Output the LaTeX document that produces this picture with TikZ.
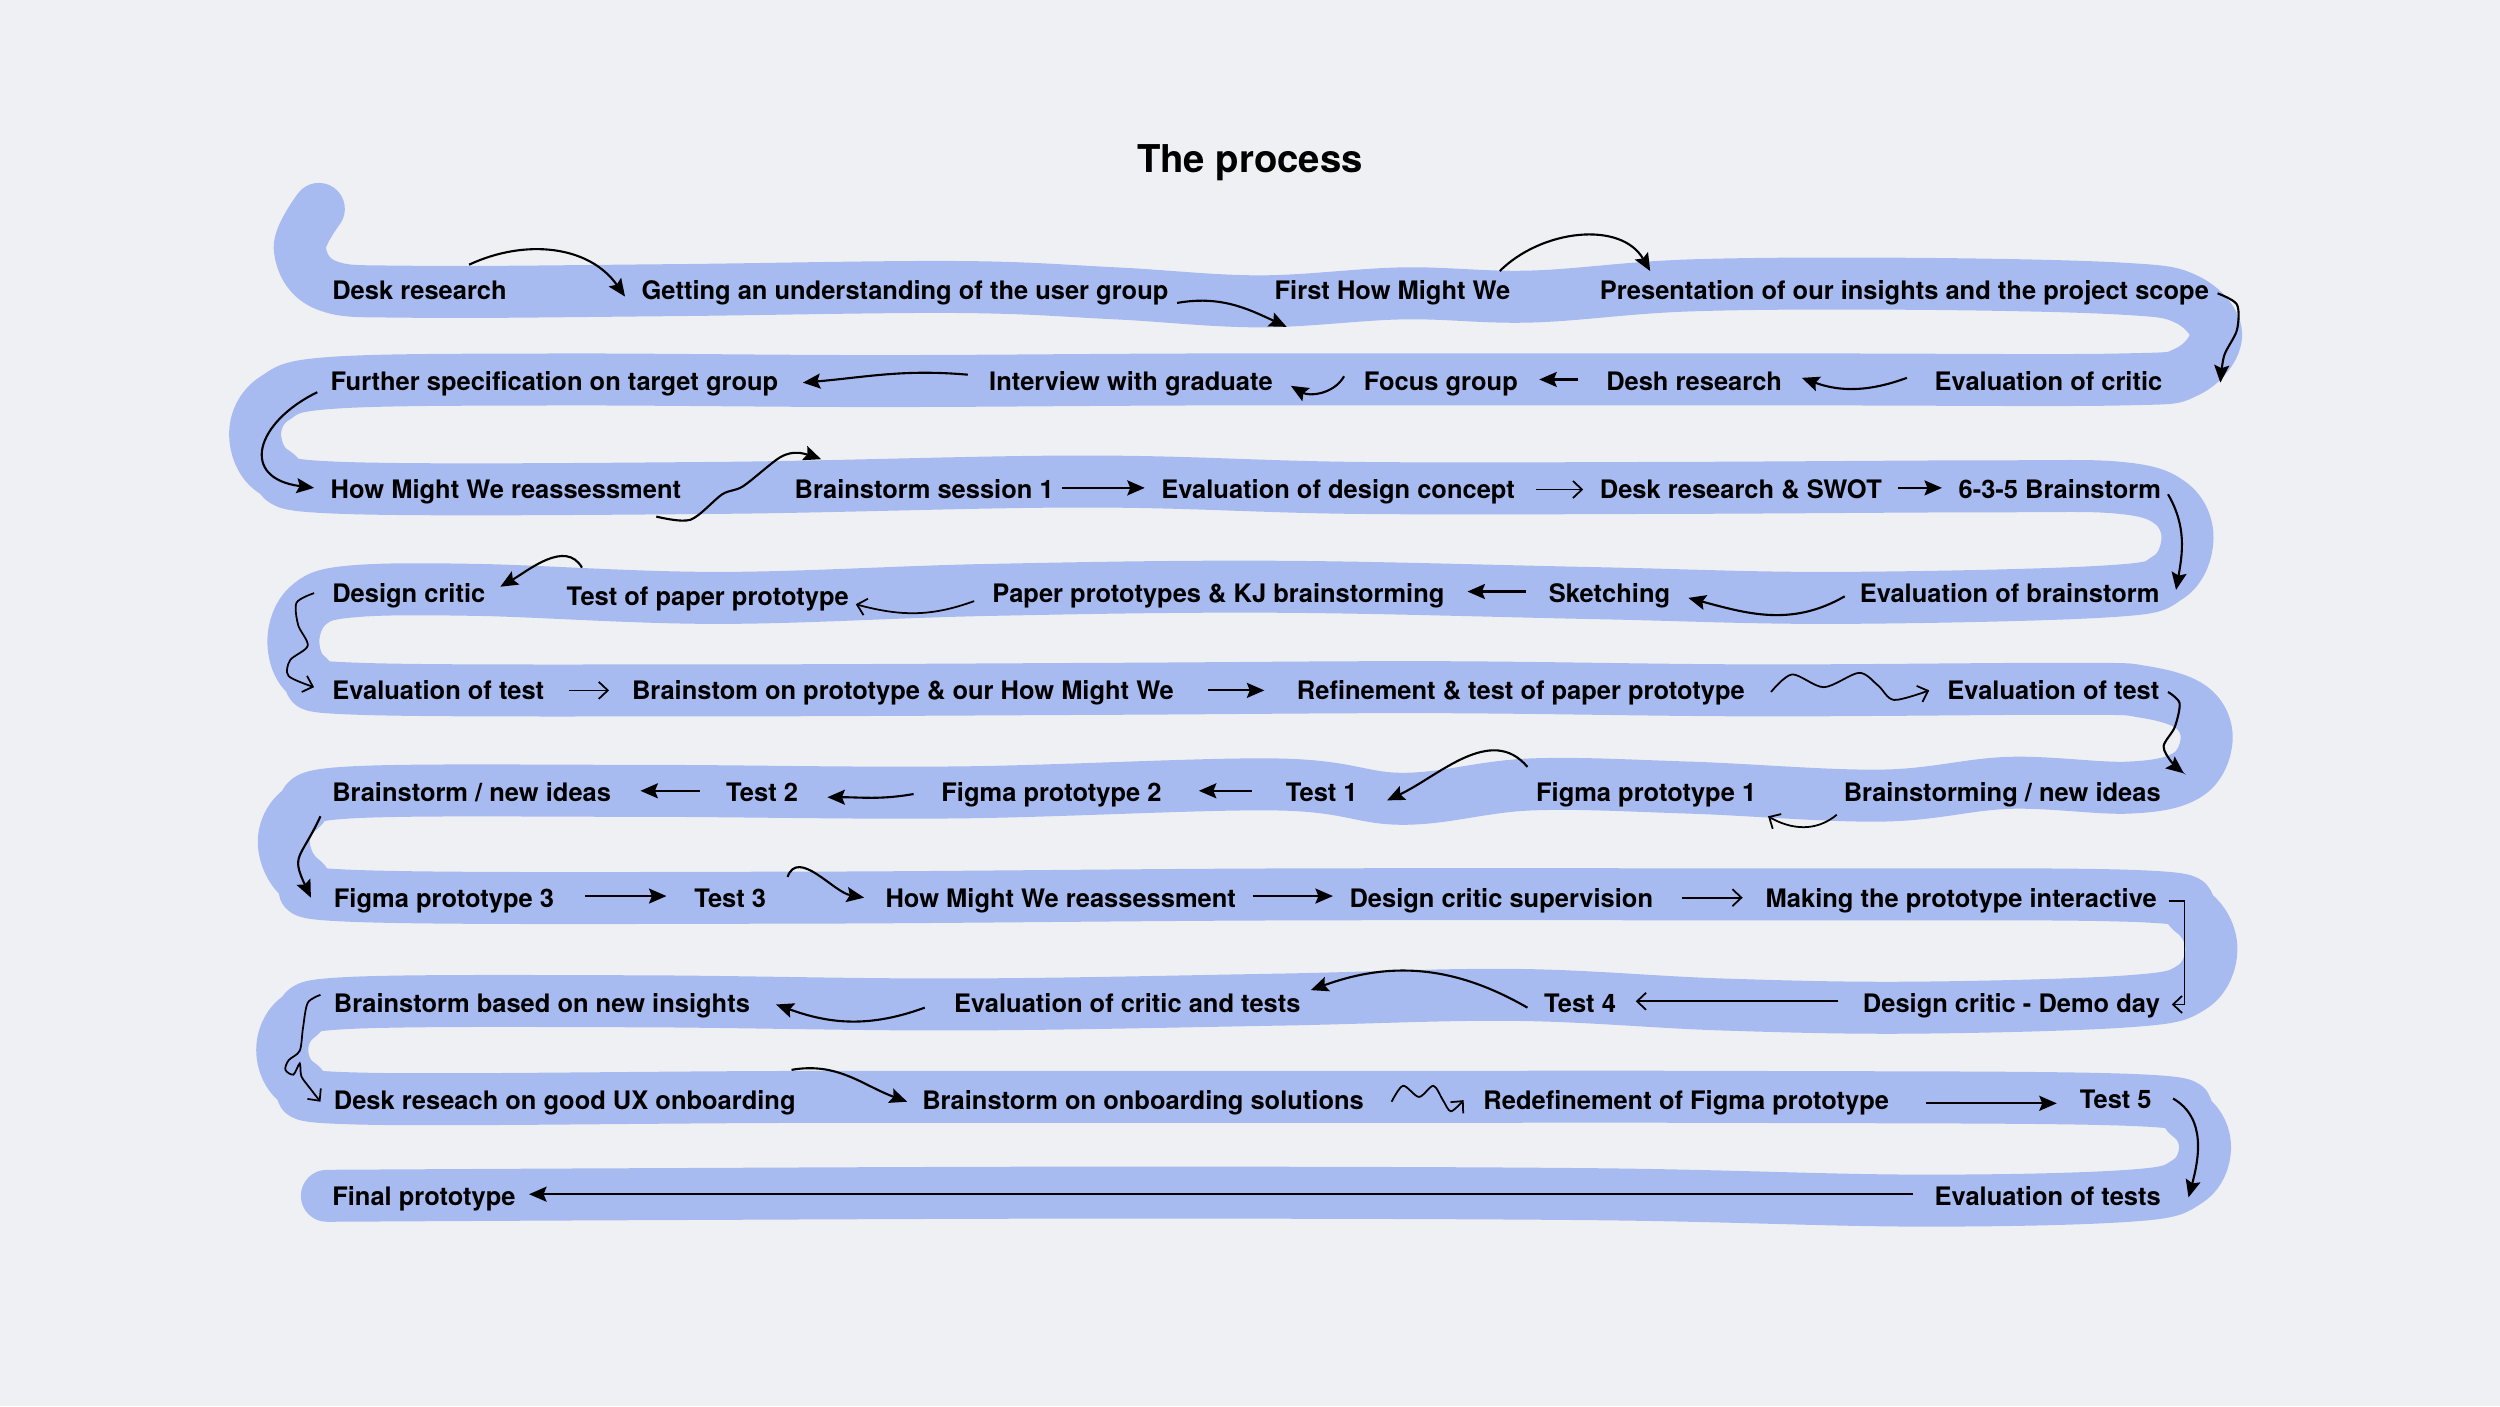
\documentclass[tikz,border=0pt]{standalone}
\usepackage{fontspec}
\setmainfont{TeX Gyre Heros}
\usetikzlibrary{arrows.meta, calc}
\definecolor{paper}{RGB}{239,240,243}
\definecolor{ribbon}{RGB}{168,187,240}

\begin{document}
\begin{tikzpicture}[x=0.015944cm, y=0.015944cm,
  stage/.style={anchor=west, inner sep=0pt, text height=1.6ex, text depth=0.4ex, font=\fontsize{7.25}{9}\selectfont\bfseries},
  flow/.style={line width=0.6pt, -{Stealth[length=1.75mm, width=1.5mm, inset=0.3mm]}},
  flowthin/.style={line width=0.5pt, -{Straight Barb[length=0.9mm, width=1.7mm]}},
  road/.style={draw=ribbon, line width=5.2mm, line cap=round, line join=round}]

\fill[paper] (0,0) rectangle (1568,-882);

\draw[road] plot[smooth, tension=0.6] coordinates {
  (200,-131) (188,-156) (205,-179) (260,-183) (420,-182) (600,-180) (700,-184) (790,-189) (880,-184) (960,-186) (1060,-179) (1200,-178) (1330,-181)
  (1372,-188) (1390,-210) (1372,-233)
  (1330,-238) (1150,-238) (950,-238) (750,-238) (550,-239) (350,-238) (210,-240)
  (172,-250) (160,-272) (172,-296)
  (215,-306) (450,-306) (680,-302) (850,-306) (1050,-306) (1250,-305) (1330,-306)
  (1362,-316) (1372,-338) (1360,-362)
  (1320,-371) (1150,-375) (1000,-372) (800,-368) (620,-370) (450,-375) (300,-370) (220,-371)
  (193,-380) (184,-402) (193,-424)
  (225,-432) (450,-433) (700,-432) (900,-431) (1100,-433) (1300,-432) (1345,-434)
  (1375,-444) (1384,-464) (1372,-486)
  (1335,-494) (1260,-491) (1180,-499) (1060,-494) (960,-492) (880,-501) (800,-492) (600,-497) (400,-496) (220,-497)
  (188,-508) (178,-529) (190,-552)
  (225,-562) (500,-563) (800,-561) (1100,-561) (1340,-562)
  (1375,-572) (1387,-595) (1375,-619)
  (1335,-628) (1200,-632) (1080,-630) (950,-624) (800,-627) (600,-630) (400,-628) (220,-629)
  (187,-638) (177,-659) (188,-680)
  (225,-689) (500,-688) (800,-688) (1100,-688) (1340,-690)
  (1373,-700) (1383,-720) (1372,-741)
  (1335,-750) (1200,-753) (1000,-749) (700,-748) (400,-749) (205,-750)};

\node (title) at (784,-102) [font=\fontsize{10.9}{13}\selectfont\bfseries] {The process};

\node (desk1) at (208,-181) [stage] {Desk research};
\node (usergroup) at (402,-181) [stage] {Getting an understanding of the user group};
\node (hmw1) at (799,-181) [stage] {First How Might We};
\node (present) at (1003,-181) [stage] {Presentation of our insights and the project scope};

\node (critic1) at (1213,-238) [stage] {Evaluation of critic};
\node (desh) at (1007,-238) [stage] {Desh research};
\node (focus) at (855,-238) [stage] {Focus group};
\node (interview) at (620,-238) [stage] {Interview with graduate};
\node (target) at (207,-238) [stage] {Further specification on target group};

\node (hmw2) at (207,-306) [stage] {How Might We reassessment};
\node (bs1) at (498,-306) [stage] {Brainstorm session 1};
\node (concept) at (728,-306) [stage] {Evaluation of design concept};
\node (swot) at (1003,-306) [stage] {Desk research \& SWOT};
\node (bs635) at (1228,-306) [stage] {6-3-5 Brainstorm};

\node (evalbs) at (1166,-371) [stage] {Evaluation of brainstorm};
\node (sketch) at (971,-371) [stage] {Sketching};
\node (paperkj) at (622,-371) [stage] {Paper prototypes \& KJ brainstorming};
\node (testpaper) at (355,-373) [stage] {Test of paper prototype};
\node (critic2) at (208,-371) [stage] {Design critic};

\node (evaltest1) at (208,-432) [stage] {Evaluation of test};
\node (bsproto) at (396,-432) [stage] {Brainstom on prototype \& our How Might We};
\node (refine) at (813,-432) [stage] {Refinement \& test of paper prototype};
\node (evaltest2) at (1221,-432) [stage] {Evaluation of test};

\node (ideas1) at (1156,-496) [stage] {Brainstorming / new ideas};
\node (figma1) at (963,-496) [stage] {Figma prototype 1};
\node (test1) at (806,-496) [stage] {Test 1};
\node (figma2) at (590,-496) [stage] {Figma prototype 2};
\node (test2) at (455,-496) [stage] {Test 2};
\node (ideas2) at (208,-496) [stage] {Brainstorm / new ideas};

\node (figma3) at (209,-562) [stage] {Figma prototype 3};
\node (test3) at (435,-562) [stage] {Test 3};
\node (hmw3) at (555,-562) [stage] {How Might We reassessment};
\node (supervision) at (846,-562) [stage] {Design critic supervision};
\node (interactive) at (1107,-562) [stage] {Making the prototype interactive};

\node (demoday) at (1168,-628) [stage] {Design critic - Demo day};
\node (test4) at (968,-628) [stage] {Test 4};
\node (critic3) at (598,-628) [stage] {Evaluation of critic and tests};
\node (insights) at (209,-628) [stage] {Brainstorm based on new insights};

\node (onboard) at (209,-689) [stage] {Desk reseach on good UX onboarding};
\node (bsonboard) at (578,-689) [stage] {Brainstorm on onboarding solutions};
\node (redefine) at (930,-689) [stage] {Redefinement of Figma prototype};
\node (test5) at (1304,-688) [stage] {Test 5};

\node (evaltests) at (1213,-749) [stage] {Evaluation of tests};
\node (final) at (208,-749) [stage] {Final prototype};

\draw[flow] ($(desk1.east)+(-24,15)$) to[out=25,in=125] ($(usergroup.west)+(-10,-5)$);
\draw[flow] ($(usergroup.east)+(5,-9)$) to[out=10,in=155] ($(hmw1.west)+(8,-24)$);
\draw[flow] ($(hmw1.east)+(-7,11)$) to[out=45,in=120] ($(present.west)+(32,11)$);
\draw[flow] plot[smooth] coordinates {($(present.east)+(5,-3)$) (1403,-191) (1403,-207) (1395,-223) ($(critic1.east)+(36,-2)$)};

\draw[flow] ($(critic1.west)+(-17,1)$) to[out=-160,in=-20] ($(desh.east)+(12,1)$);
\draw[flow] ($(desh.west)+(-17,0)$) -- ($(focus.east)+(13,0)$);
\draw[flow] ($(focus.west)+(-12,2)$) to[out=-120,in=-30] ($(interview.east)+(11,-4)$);
\draw[flow] ($(interview.west)+(-13,3)$) to[out=175,in=5] ($(target.east)+(15,-2)$);
\draw[flow] ($(target.west)+(-8,-8)$) .. controls (160,-265) and (150,-300) .. ($(hmw2.west)+(-10,0)$);

\draw[flow] plot[smooth] coordinates {($(hmw2.south east)+(-16,-6)$) (433,-326) (453,-310) (466,-305) (489,-287) (501,-284) ($(bs1.north west)+(17,6)$)};
\draw[flow] ($(bs1.east)+(5,0)$) -- ($(concept.west)+(-10,0)$);
\draw[flowthin] ($(concept.east)+(13,-1)$) -- ($(swot.west)+(-10,-1)$);
\draw[flow] ($(swot.east)+(10,0)$) -- ($(bs635.west)+(-10,0)$);
\draw[flow] ($(bs635.east)+(4,-4)$) to[out=-60,in=80] ($(evalbs.east)+(10,1)$);

\draw[flow] ($(evalbs.west)+(-9,-3)$) to[out=-150,in=-15] ($(sketch.east)+(11,-4)$);
\draw[flow] ($(sketch.west)+(-14,0)$) -- ($(paperkj.east)+(14,0)$);
\draw[flowthin] ($(paperkj.west)+(-11,-6)$) to[out=-160,in=-15] ($(testpaper.east)+(4,-6)$);
\draw[flow] ($(testpaper.north west)+(10,5)$) to[out=120,in=30] ($(critic2.east)+(9,3)$);
\draw[flowthin] plot[smooth] coordinates {($(critic2.west)+(-11,-1)$) (186,-378) (187,-392) (193,-405) (182,-414) (181,-424) ($(evaltest1.west)+(-11,1)$)};

\draw[flowthin] ($(evaltest1.east)+(15,-1)$) -- ($(bsproto.west)+(-14,-1)$);
\draw[flow] ($(bsproto.east)+(21,-1)$) -- ($(refine.west)+(-20,-1)$);
\draw[flowthin] plot[smooth] coordinates {($(refine.east)+(16,-2)$) (1124,-423) (1144,-431) (1166,-422) (1178,-430) (1188,-439) ($(evaltest2.west)+(-11,-1)$)};
\draw[flow] plot[smooth] coordinates {($(evaltest2.east)+(5,-2)$) (1367,-441) (1364,-456) (1357,-468) (1362,-478) ($(ideas1.east)+(14,11)$)};

\draw[flowthin] ($(ideas1.south west)+(-4,-3)$) to[out=-140,in=-30] ($(figma1.south east)+(7,-4)$);
\draw[flow] ($(figma1.north west)+(-5,3)$) to[out=130,in=25] ($(test1.east)+(18,-6)$);
\draw[flow] ($(test1.west)+(-21,0)$) -- ($(figma2.east)+(23,0)$);
\draw[flow] ($(figma2.west)+(-17,-2)$) to[out=-170,in=0] ($(test2.east)+(18,-4)$);
\draw[flow] ($(test2.west)+(-16,0)$) -- ($(ideas2.east)+(18,0)$);
\draw[flow] ($(ideas2.south west)+(-7,-4)$) to[out=-115,in=115,looseness=1.5] ($(figma3.west)+(-14,-1)$);

\draw[flow] ($(figma3.east)+(19,0)$) -- ($(test3.west)+(-17,0)$);
\draw[flow] ($(test3.north east)+(13,0)$) to[out=70,in=170] ($(hmw3.west)+(-13,-1)$);
\draw[flow] ($(hmw3.east)+(10,0)$) -- ($(supervision.west)+(-10,0)$);
\draw[flowthin] ($(supervision.east)+(18,-1)$) -- ($(interactive.west)+(-14,-1)$);
\draw[flowthin] ($(interactive.east)+(7,-3)$) -- ++(10,0) |- ($(demoday.east)+(7,-2)$);

\draw[flowthin] ($(demoday.west)+(-15,0)$) -- ($(test4.east)+(12,0)$);
\draw[flow] ($(test4.west)+(-10,-4)$) to[out=150,in=20] ($(critic3.east)+(6,7)$);
\draw[flow] ($(critic3.west)+(-18,-4)$) to[out=-160,in=-20] ($(insights.east)+(16,-2)$);
\draw[flowthin] plot[smooth] coordinates {($(insights.west)+(-8,4)$) (193,-629) (190,-645) (188,-659) (181,-665) (179,-671) (184,-674) (188,-667) (189,-675) (194,-682) ($(onboard.west)+(-8,-2)$)};

\draw[flow] ($(onboard.north east)+(-3,6)$) to[out=10,in=160] ($(bsonboard.west)+(-9,-2)$);
\draw[flowthin] plot[smooth] coordinates {($(bsonboard.east)+(17,-2)$) (880,-681) (890,-688) (899,-681) (905,-690) (910,-697) ($(redefine.west)+(-12,-1)$)};
\draw[flow] ($(redefine.east)+(23,-3)$) -- ($(test5.west)+(-14,-4)$);
\draw[flow] ($(test5.east)+(13,-1)$) to[out=-30,in=75] ($(evaltests.east)+(17,-2)$);

\draw[flow] ($(evaltests.west)+(-13,0)$) -- ($(final.east)+(8,0)$);

\end{tikzpicture}
\end{document}
